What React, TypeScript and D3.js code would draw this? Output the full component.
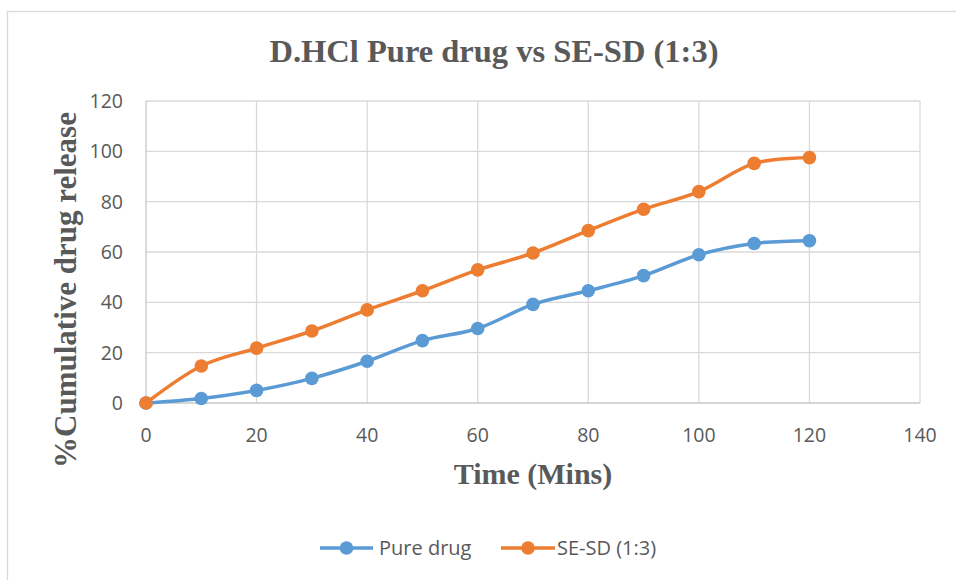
import React, { useEffect, useRef } from 'react';
import * as d3 from 'd3';

// time points (mins)
const times = [0, 10, 20, 30, 40, 50, 60, 70, 80, 90, 100, 110, 120];
// % cumulative drug release
const pureDrug = [0, 1.8, 5.0, 9.8, 16.6, 24.8, 29.6, 39.2, 44.6, 50.6, 58.9, 63.4, 64.5];
const seSd = [0, 14.7, 21.8, 28.6, 37.0, 44.6, 52.9, 59.6, 68.5, 77.0, 84.0, 95.2, 97.5];

const xTicks = [0, 20, 40, 60, 80, 100, 120, 140];
const yTicks = [0, 20, 40, 60, 80, 100, 120];

const seriesNames = ['Pure drug', 'SE-SD (1:3)'];
const seriesColors = ['#5B9BD5', '#ED7D31'];

const App: React.FC = () => {
  const svgRef = useRef<SVGSVGElement | null>(null);

  useEffect(() => {
    if (!svgRef.current) return;
    const svg = d3.select(svgRef.current);
    svg.selectAll('*').remove();

    const width = 956;
    const height = 580;
    const margin = { top: 101, right: 36, bottom: 177, left: 146 };
    const chartWidth = width - margin.left - margin.right;
    const chartHeight = height - margin.top - margin.bottom;

    const textColor = '#595959';
    const serif = '"Liberation Serif", "Times New Roman", serif';
    const sans = '"Open Sans", "Noto Sans", sans-serif';

    svg.append('rect')
      .attr('width', width)
      .attr('height', height)
      .attr('fill', '#ffffff');

    // outer chart frame
    svg.append('rect')
      .attr('x', 7.5)
      .attr('y', 11.5)
      .attr('width', width + 20)
      .attr('height', height + 20)
      .attr('fill', 'none')
      .attr('stroke', '#d9d9d9')
      .attr('stroke-width', 1.3);

    const xScale = d3.scaleLinear().domain([0, 140]).range([0, chartWidth]);
    const yScale = d3.scaleLinear().domain([0, 120]).range([chartHeight, 0]);

    const g = svg.append('g')
      .attr('transform', `translate(${margin.left},${margin.top})`);

    // grid
    g.selectAll('line.hgrid')
      .data(yTicks.filter(t => t !== 0))
      .enter()
      .append('line')
      .attr('class', 'hgrid')
      .attr('x1', 0)
      .attr('x2', chartWidth)
      .attr('y1', d => yScale(d))
      .attr('y2', d => yScale(d))
      .attr('stroke', '#d9d9d9')
      .attr('stroke-width', 1.3);

    g.selectAll('line.vgrid')
      .data(xTicks.filter(t => t !== 0))
      .enter()
      .append('line')
      .attr('class', 'vgrid')
      .attr('x1', d => xScale(d))
      .attr('x2', d => xScale(d))
      .attr('y1', 0)
      .attr('y2', chartHeight)
      .attr('stroke', '#d9d9d9')
      .attr('stroke-width', 1.3);

    // axis lines
    g.append('line')
      .attr('x1', 0).attr('x2', 0)
      .attr('y1', 0).attr('y2', chartHeight)
      .attr('stroke', '#c8c8c8')
      .attr('stroke-width', 1.3);
    g.append('line')
      .attr('x1', 0).attr('x2', chartWidth)
      .attr('y1', chartHeight).attr('y2', chartHeight)
      .attr('stroke', '#c8c8c8')
      .attr('stroke-width', 1.3);

    // tick labels
    g.selectAll('text.xt')
      .data(xTicks)
      .enter()
      .append('text')
      .attr('class', 'xt')
      .attr('x', d => xScale(d))
      .attr('y', chartHeight + 39)
      .attr('text-anchor', 'middle')
      .attr('fill', textColor)
      .style('font-family', sans)
      .style('font-size', '19.5px')
      .text(d => d);

    g.selectAll('text.yt')
      .data(yTicks)
      .enter()
      .append('text')
      .attr('class', 'yt')
      .attr('x', -23)
      .attr('y', d => yScale(d))
      .attr('dy', '0.36em')
      .attr('text-anchor', 'end')
      .attr('fill', textColor)
      .style('font-family', sans)
      .style('font-size', '19.5px')
      .text(d => d);

    // series
    const line = d3.line<number>()
      .x((_, i) => xScale(times[i]))
      .y(d => yScale(d))
      .curve(d3.curveCardinal.tension(0));

    [pureDrug, seSd].forEach((vals, si) => {
      g.append('path')
        .datum(vals)
        .attr('fill', 'none')
        .attr('stroke', seriesColors[si])
        .attr('stroke-width', 3.5)
        .attr('stroke-linejoin', 'round')
        .attr('stroke-linecap', 'round')
        .attr('d', line);

      g.selectAll(`circle.s${si}`)
        .data(vals)
        .enter()
        .append('circle')
        .attr('class', `s${si}`)
        .attr('cx', (_, i) => xScale(times[i]))
        .attr('cy', d => yScale(d))
        .attr('r', 6.8)
        .attr('fill', seriesColors[si]);
    });

    // title
    svg.append('text')
      .attr('x', 494)
      .attr('y', 62)
      .attr('text-anchor', 'middle')
      .attr('fill', textColor)
      .style('font-family', serif)
      .style('font-weight', 'bold')
      .style('font-size', '32.5px')
      .text('D.HCl Pure drug vs SE-SD (1:3)');

    // axis titles
    svg.append('text')
      .attr('x', margin.left + xScale(70))
      .attr('y', 484)
      .attr('text-anchor', 'middle')
      .attr('fill', textColor)
      .style('font-family', serif)
      .style('font-weight', 'bold')
      .style('font-size', '30px')
      .text('Time (Mins)');

    svg.append('text')
      .attr('transform', `translate(76,290) rotate(-90)`)
      .attr('text-anchor', 'middle')
      .attr('fill', textColor)
      .style('font-family', serif)
      .style('font-weight', 'bold')
      .style('font-size', '31px')
      .text('%Cumulative drug release');

    // legend
    const legendItems = [
      { x1: 320, x2: 373, tx: 379 },
      { x1: 501, x2: 555, tx: 557 },
    ];
    const legendY = 548;
    legendItems.forEach((it, si) => {
      const lg = svg.append('g');
      lg.append('line')
        .attr('x1', it.x1).attr('x2', it.x2)
        .attr('y1', legendY).attr('y2', legendY)
        .attr('stroke', seriesColors[si])
        .attr('stroke-width', 3.5);
      lg.append('circle')
        .attr('cx', (it.x1 + it.x2) / 2)
        .attr('cy', legendY)
        .attr('r', 6.8)
        .attr('fill', seriesColors[si]);
      lg.append('text')
        .attr('x', it.tx)
        .attr('y', legendY)
        .attr('dy', '0.36em')
        .attr('fill', textColor)
        .style('font-family', sans)
        .style('font-size', '20px')
        .text(seriesNames[si]);
    });
  }, []);

  return (
    <svg
      ref={svgRef}
      width={956}
      height={580}
      style={{ position: 'absolute', left: 0, top: 0, display: 'block' }}
    />
  );
};

export default App;
